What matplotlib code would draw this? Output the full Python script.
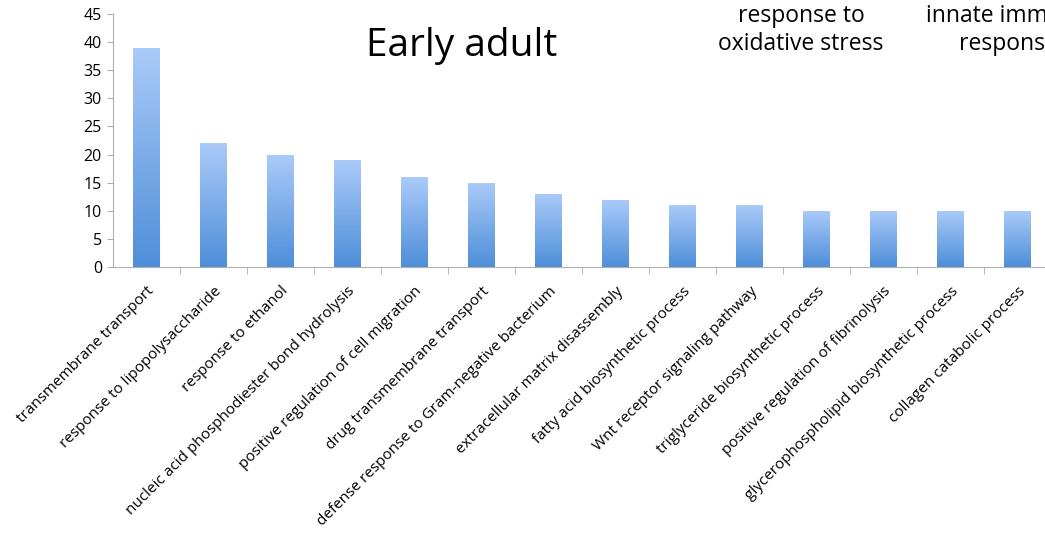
import matplotlib
matplotlib.use("Agg")
import matplotlib.pyplot as plt
import numpy as np
from matplotlib.colors import LinearSegmentedColormap

plt.rcParams['font.family'] = ['Open Sans', 'DejaVu Sans']

terms = ["transmembrane transport",
         "response to lipopolysaccharide",
         "response to ethanol",
         "nucleic acid phosphodiester bond hydrolysis",
         "positive regulation of cell migration",
         "drug transmembrane transport",
         "defense response to Gram-negative bacterium",
         "extracellular matrix disassembly",
         "fatty acid biosynthetic process",
         "Wnt receptor signaling pathway",
         "triglyceride biosynthetic process",
         "positive regulation of fibrinolysis",
         "glycerophospholipid biosynthetic process",
         "collagen catabolic process"]
counts = [39, 22, 20, 19, 16, 15, 13, 12, 11, 11, 10, 10, 10, 10]

fig = plt.figure(figsize=(10.45, 5.34), dpi=100)
ax = fig.add_axes([113/1045, 0.5, 938/1045, 0.4738])

x = np.arange(len(terms))
bars = ax.bar(x, counts, width=0.4, color='none', edgecolor='none', zorder=2)

# vertical gradient inside each bar, light on top
grad = LinearSegmentedColormap.from_list('barblue', ['#4e8ed9', '#aacbf9'])
g = np.linspace(0, 1, 256).reshape(-1, 1)
for b in bars:
    x0, y0 = b.get_x(), b.get_y()
    im = ax.imshow(g, cmap=grad, origin='lower', aspect='auto', zorder=2,
                   extent=[x0, x0 + b.get_width(), y0, y0 + b.get_height()])
    im.set_clip_path(b)

ax.set_xlim(-0.5, len(terms) - 0.5)
ax.set_ylim(0, 45)
ax.set_yticks(range(0, 46, 5))
ax.tick_params(axis='y', labelsize=11.5, color='#b0b0b0', length=4, pad=4)

ax.set_xticks(x)
ax.set_xticklabels(terms, rotation=45, ha='right', rotation_mode='anchor',
                   fontsize=11)
ax.tick_params(axis='x', which='major', length=0, pad=12)
ax.set_xticks(np.arange(0.5, len(terms) - 0.5, 1), minor=True)
ax.tick_params(axis='x', which='minor', length=5, color='#b0b0b0')

for side in ['top', 'right']:
    ax.spines[side].set_visible(False)
for side in ['left', 'bottom']:
    ax.spines[side].set_color('#b0b0b0')

fig.text(462/1045, 1 - 46/534, "Early adult", fontsize=28, ha='center', va='center')
fig.text(801/1045, 1 - 30/534, "response to\noxidative stress", fontsize=16.5,
         ha='center', va='center', linespacing=1.2)
fig.text(1008/1045, 1 - 30/534, "innate immune\nresponse", fontsize=16.5,
         ha='center', va='center', linespacing=1.2)

fig.savefig("out.png", dpi=100)
